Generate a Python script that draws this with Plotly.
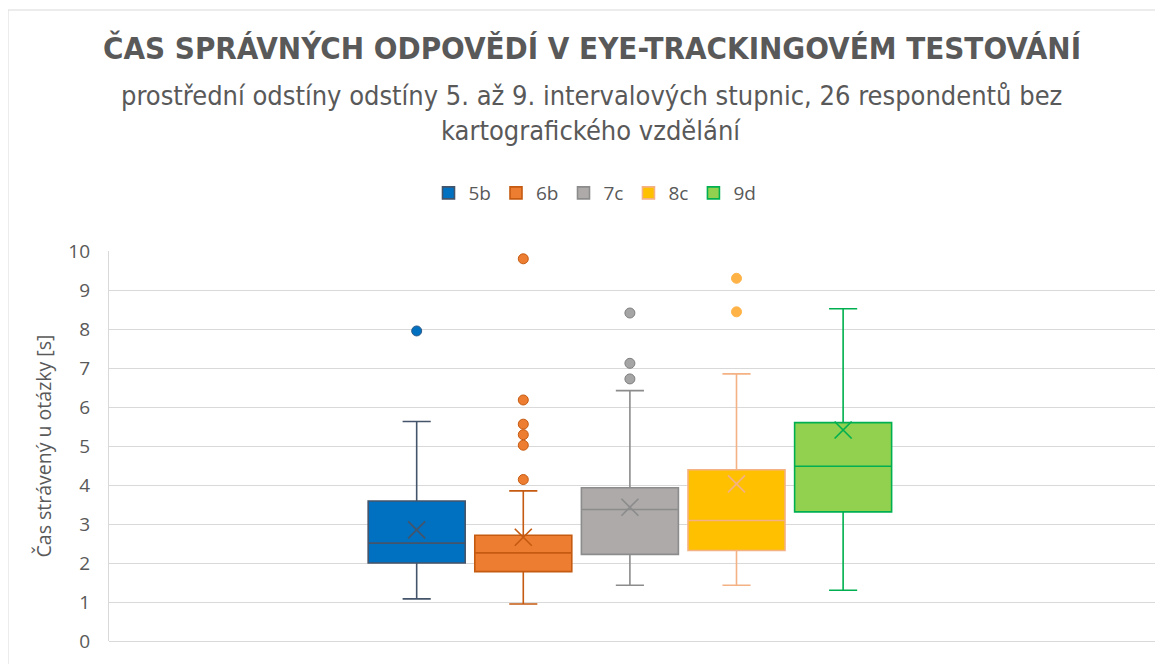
import plotly.graph_objects as go

# Series names
series = ['5b', '6b', '7c', '8c', '9d']

# Box statistics (seconds)
q1 = [2.00, 1.78, 2.22, 2.32, 3.31]
median = [2.51, 2.26, 3.37, 3.09, 4.48]
q3 = [3.59, 2.71, 3.93, 4.39, 5.60]
lower_whisker = [1.08, 0.95, 1.43, 1.43, 1.30]
upper_whisker = [5.63, 3.85, 6.42, 6.85, 8.52]
mean = [2.85, 2.66, 3.43, 4.03, 5.41]

# Outliers per series
outliers = {
    '5b': [7.95],
    '6b': [9.80, 6.18, 5.56, 5.29, 5.02, 4.14],
    '7c': [8.41, 7.12, 6.72],
    '8c': [9.30, 8.44],
    '9d': [],
}

# Excel-like colors
fill_colors = ['#0070C0', '#ED7D31', '#AEAAAA', '#FFC000', '#92D050']
line_colors = ['#44546A', '#C55A11', '#8C8C8C', '#F4B183', '#00B050']
outlier_fill = ['#0070C0', '#ED7D31', '#A5A5A5', '#FFB347', '#92D050']
outlier_line = ['#2E5C8A', '#C55A11', '#7F7F7F', '#FFB347', '#00B050']

narrow = 'Liberation Sans Narrow, DejaVu Sans Condensed, Roboto, sans-serif'
regular = 'Open Sans, Lato, sans-serif'

# Page body has an 8px margin, so the figure is a bit smaller than the window
W, H = 1155, 656
L, T = 101, 243          # plot area left / top inside the figure
PW, PH = 1050, 390       # plot area width / height


def px_x(x):
    # screen x -> paper x
    return (x - 109) / PW


def px_y(y):
    # screen y -> paper y
    return 1 + (251 - y) / PH


fig = go.Figure()

for i, name in enumerate(series):
    fig.add_trace(go.Box(
        name=name,
        x=[name],
        q1=[q1[i]],
        median=[median[i]],
        q3=[q3[i]],
        lowerfence=[lower_whisker[i]],
        upperfence=[upper_whisker[i]],
        fillcolor=fill_colors[i],
        line=dict(color=line_colors[i], width=1.6),
        width=0.91,
        whiskerwidth=0.29,
        boxpoints=False,
        hoverinfo='skip',
    ))

for i, name in enumerate(series):
    # Mean marker (X)
    fig.add_trace(go.Scatter(
        x=[name],
        y=[mean[i]],
        mode='markers',
        marker=dict(symbol='x-thin-open', size=17, color=line_colors[i],
                    line=dict(color=line_colors[i], width=1.7)),
        showlegend=False,
        hoverinfo='skip',
    ))
    # Outlier points
    pts = outliers[name]
    if pts:
        fig.add_trace(go.Scatter(
            x=[name] * len(pts),
            y=pts,
            mode='markers',
            marker=dict(size=10, color=outlier_fill[i],
                        line=dict(color=outlier_line[i], width=1)),
            showlegend=False,
            hoverinfo='skip',
        ))

fig.update_layout(
    width=W,
    height=H,
    paper_bgcolor='white',
    plot_bgcolor='white',
    margin=dict(l=L, r=W - L - PW, t=T, b=H - T - PH),
    showlegend=True,
    boxmode='overlay',
    title=dict(
        text='<b>ČAS SPRÁVNÝCH ODPOVĚDÍ V EYE-TRACKINGOVÉM TESTOVÁNÍ</b>',
        x=(592 - 8) / W, xref='container', xanchor='center',
        y=1 - (48 - 8) / H, yref='container', yanchor='middle',
        font=dict(family=narrow, size=31, color='#595959'),
    ),
    legend=dict(
        orientation='h',
        x=px_x(595), xanchor='center',
        y=px_y(193), yanchor='middle',
        font=dict(family=regular, size=19, color='#595959'),
        itemwidth=30,
        traceorder='normal',
    ),
    font=dict(family=regular, color='#595959'),
)

fig.add_annotation(
    text='prostřední odstíny odstíny 5. až 9. intervalových stupnic, 26 respondentů bez',
    xref='paper', yref='paper',
    x=px_x(591), y=px_y(95),
    xanchor='center', yanchor='middle', showarrow=False,
    font=dict(family=narrow, size=27, color='#595959'),
)
fig.add_annotation(
    text='kartografického vzdělání',
    xref='paper', yref='paper',
    x=px_x(591), y=px_y(130),
    xanchor='center', yanchor='middle', showarrow=False,
    font=dict(family=narrow, size=27, color='#595959'),
)

# Chart outer border
fig.add_shape(
    type='rect', xref='paper', yref='paper',
    x0=px_x(8), x1=px_x(1175),
    y0=px_y(700), y1=px_y(10),
    line=dict(color='#D9D9D9', width=1),
)

fig.update_xaxes(
    range=[-2.886, 6.963],
    showticklabels=False,
    showgrid=False,
    zeroline=False,
    showline=False,
    fixedrange=True,
)

fig.update_yaxes(
    range=[0, 10],
    dtick=1,
    showgrid=True,
    gridcolor='#D9D9D9',
    gridwidth=1.3,
    zeroline=True,
    zerolinecolor='#D9D9D9',
    zerolinewidth=1.3,
    showline=True,
    linecolor='#D9D9D9',
    linewidth=1.3,
    ticklabelstandoff=14,
    tickfont=dict(family=regular, size=19, color='#595959'),
    title=dict(text='Čas strávený u otázky [s]',
               font=dict(family=regular, size=19.5, color='#595959'),
               standoff=11),
)

fig.write_html('out.html')
